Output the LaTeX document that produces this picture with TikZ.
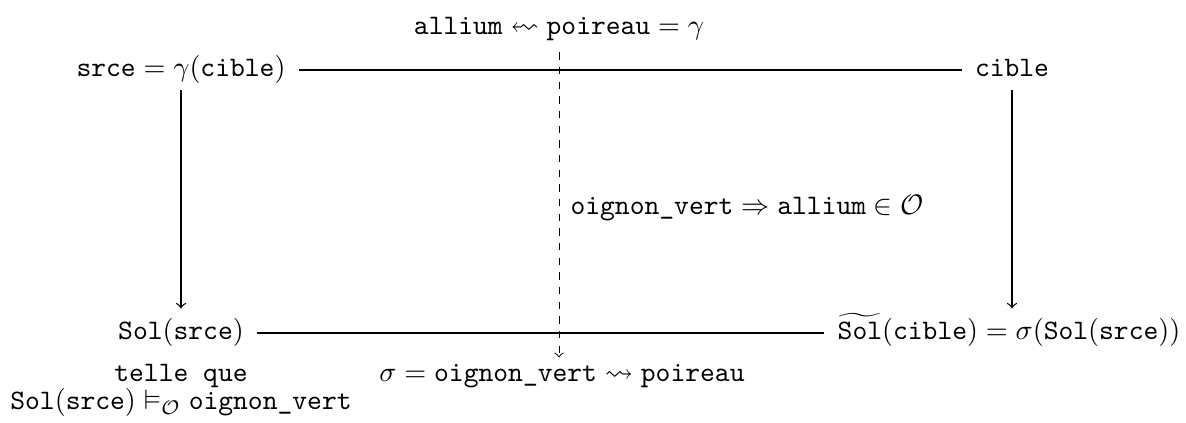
\documentclass[tikz,border=0pt]{standalone}
\usepackage{amsmath,amssymb,graphicx}
\newcommand{\lsquig}{\mathrel{\reflectbox{$\rightsquigarrow$}}}
\begin{document}
\begin{tikzpicture}[x=0.3546pt,y=-0.3546pt,
  obj/.style={inner xsep=4.5pt, inner ysep=2pt, text height=7.5pt, text depth=2.5pt},
  lbl/.style={inner sep=0pt, text height=7.5pt, text depth=2.5pt},
  conn/.style={line width=0.45pt},
  arr/.style={conn, -to, shorten >=1.5pt},
  dasharr/.style={line width=0.35pt, dash pattern=on 2.6pt off 2.6pt, -to}]
\useasboundingbox (0,0) rectangle (1186,423);
% objects
\node[obj,anchor=base] (srce) at (181,77) {$\texttt{srce}=\gamma(\texttt{cible})$};
\node[obj,anchor=base] (cible) at (1012,77) {\texttt{cible}};
\node[obj,anchor=base] (sol) at (181,340) {$\texttt{Sol}(\texttt{srce})$};
\node[obj,anchor=base] (tsol) at (1009,340) {$\widetilde{\texttt{Sol}}(\texttt{cible})=\sigma(\texttt{Sol}(\texttt{srce}))$};
% labels
\node[lbl,anchor=base] (allium) at (559,35) {$\texttt{allium}\lsquig\texttt{poireau}=\gamma$};
\node[lbl,anchor=base west] (impl) at (570,215) {$\texttt{oignon\_vert}\Rightarrow\texttt{allium}\in\mathcal{O}$};
\node[lbl,anchor=base] (sigma) at (562,382) {$\sigma=\texttt{oignon\_vert}\rightsquigarrow\texttt{poireau}$};
\node[lbl,anchor=base] (telle) at (181,382) {\texttt{telle que}};
\node[lbl,anchor=base] (models) at (181,410) {$\texttt{Sol}(\texttt{srce})\vDash_{\mathcal{O}}\texttt{oignon\_vert}$};
% connectors
\draw[conn] (srce.east) -- (cible.west);
\draw[conn] (sol.east) -- (tsol.west);
\draw[arr] (srce.south) -- (sol.north);
\draw[arr] (cible.south) -- (cible.south |- tsol.north);
\draw[dasharr] ([yshift=-3.5pt]allium.south) -- ([yshift=1pt]allium.south |- sigma.north);
\end{tikzpicture}
\end{document}
